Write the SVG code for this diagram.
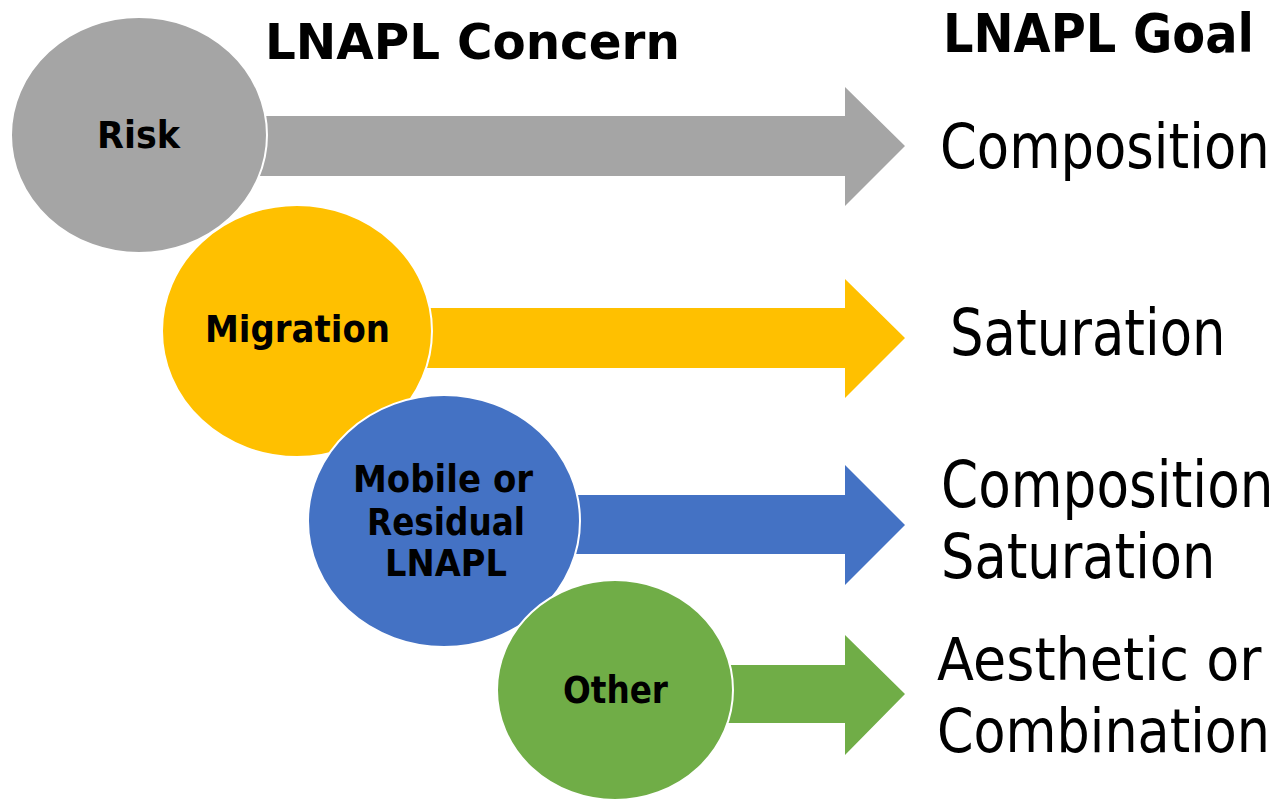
<svg xmlns="http://www.w3.org/2000/svg" width="1280" height="801" viewBox="0 0 1280 801">
<style>
.circ{stroke:#ffffff;stroke-width:2}
.lbl{font-family:"DejaVu Sans",Verdana,sans-serif;font-weight:bold;font-size:37px;fill:#000}
.hdr{font-family:"DejaVu Sans",Verdana,sans-serif;font-weight:bold;fill:#000}
.goal{font-family:"DejaVu Sans",Verdana,sans-serif;fill:#000}
</style>
<rect width="1280" height="801" fill="#ffffff"/>
<g id="headers">
<text class="hdr" transform="translate(265,59) scale(0.968,1)" font-size="50">LNAPL Concern</text>
<text class="hdr" transform="translate(943,52) scale(0.904,1)" font-size="53">LNAPL Goal</text>
</g>
<g id="connectors">
<polygon fill="#A5A5A5" points="250,116 845,116 845,87 905,146 845,206 845,176 250,176"/>
<polygon fill="#FFC000" points="400,308 845,308 845,279 905,338 845,398 845,368 400,368"/>
<polygon fill="#4472C4" points="560,495 845,495 845,465 905,525 845,585 845,554 560,554"/>
<polygon fill="#70AD47" points="700,665 845,665 845,635 905,694 845,755 845,723 700,723"/>
</g>
<g id="node-risk">
<ellipse class="circ" cx="139" cy="135" rx="128" ry="118" fill="#A5A5A5"/>
<text class="lbl" transform="translate(97,148) scale(0.945,1)">Risk</text>
</g>
<g id="node-migration">
<ellipse class="circ" cx="297" cy="331" rx="135" ry="126" fill="#FFC000"/>
<text class="lbl" transform="translate(205,342) scale(0.919,1)">Migration</text>
</g>
<g id="node-mobile">
<ellipse class="circ" cx="444" cy="521" rx="136" ry="126" fill="#4472C4"/>
<text class="lbl" transform="translate(353,492) scale(0.92,1)">Mobile or</text>
<text class="lbl" transform="translate(367,535) scale(0.884,1)">Residual</text>
<text class="lbl" transform="translate(385,576) scale(0.911,1)">LNAPL</text>
</g>
<g id="node-other">
<ellipse class="circ" cx="615" cy="690" rx="118" ry="110" fill="#70AD47"/>
<text class="lbl" transform="translate(563,703) scale(0.884,1)">Other</text>
</g>
<g id="goal-1">
<text class="goal" transform="translate(940,168) scale(0.838,1)" font-size="63">Composition</text>
</g>
<g id="goal-2">
<text class="goal" transform="translate(950,355) scale(0.826,1)" font-size="64">Saturation</text>
</g>
<g id="goal-3">
<text class="goal" transform="translate(941,507) scale(0.832,1)" font-size="64">Composition</text>
<text class="goal" transform="translate(941,578) scale(0.849,1)" font-size="62">Saturation</text>
</g>
<g id="goal-4">
<text class="goal" transform="translate(937,680) scale(0.932,1)" font-size="58">Aesthetic or</text>
<text class="goal" transform="translate(937,752) scale(0.873,1)" font-size="60">Combination</text>
</g>
</svg>
